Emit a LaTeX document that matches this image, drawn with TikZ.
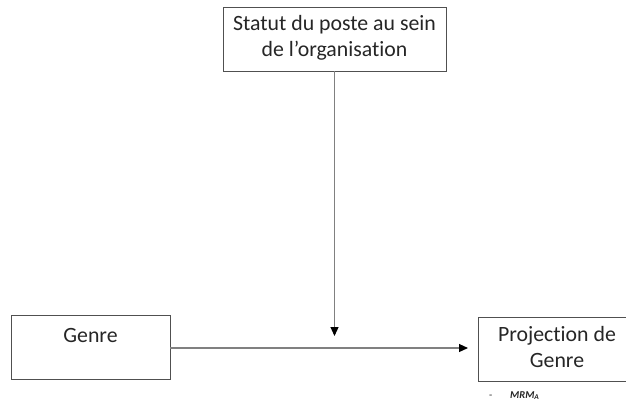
\documentclass[tikz,border=0pt]{standalone}
\usepackage{fontspec}
\setmainfont[Ligatures={NoCommon}]{Carlito}
\usetikzlibrary{arrows.meta}
\definecolor{boxline}{HTML}{505050}
\definecolor{connline}{HTML}{808080}
\tikzset{
  varbox/.style={draw=boxline, line width=0.9pt, fill=white, inner sep=0pt},
  conn/.style={draw=connline, line width=1.1pt, -{Triangle[width=8pt,length=9pt,color=black]}},
  lbl/.style={font=\fontsize{21.8}{25.5}\selectfont, align=center, inner sep=0pt, text=black!85},
  note/.style={font=\fontsize{10.5}{12}\selectfont\itshape, inner sep=0pt, anchor=base west, text=black!85}
}
\begin{document}
\begin{tikzpicture}[x=1pt,y=-1pt]
\useasboundingbox (0,0) rectangle (626,405);
\fill[white] (0,0) rectangle (626,405);
\begin{scope}
\clip (0,0) rectangle (626,405);
% boxes
\node[varbox, minimum width=223pt, minimum height=64pt] (statut) at (334.5,39) {};
\node[lbl] (statuttxt) at (334.5,38) {Statut du poste au sein\\de l’organisation};
\node[varbox, minimum width=159pt, minimum height=64pt] (genre) at (90.5,347) {};
\node[lbl, anchor=base] (genretxt) at (90.5,342) {Genre};
\node[varbox, minimum width=158pt, minimum height=64pt] (proj) at (557,349) {};
\node[lbl] (projtxt) at (557,347) {Projection de\\Genre};
% connector ends
\coordinate (hend) at (468,348);
\coordinate (vend) at (334.5,336);
\draw[conn] (genre.east |- hend) -- (hend);
\draw[conn] (statut.south) -- (vend);
% note
\node[note, font=\fontsize{10.5}{12}\selectfont] (dash) at (489,398) {-};
\node[note] (mrm) at (510,398) {\textbf{MRM}\textsubscript{\textbf{A}}};
\end{scope}
\end{tikzpicture}
\end{document}
